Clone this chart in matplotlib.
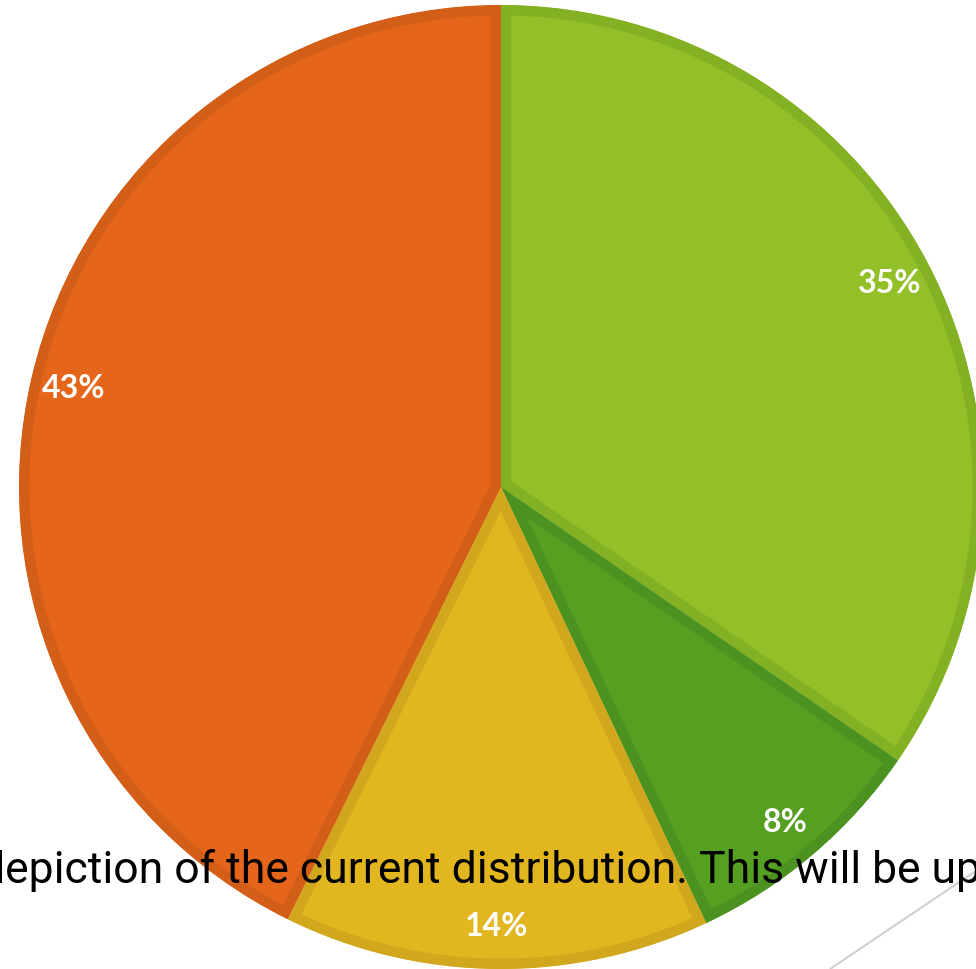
import matplotlib
matplotlib.use("Agg")
import matplotlib.pyplot as plt

# slice shares, clockwise from 12 o'clock
labels = ["Light green", "Dark green", "Yellow", "Orange"]
shares = [34.6, 8.4, 14.3, 42.7]
fills = ["#93C028", "#559F21", "#E2B61F", "#E5661A"]
edges = ["#84B024", "#4C9220", "#D1A71E", "#D35E17"]

caption = "depiction of the current distribution. This will be up"

W, H = 976, 970
fig = plt.figure(figsize=(W / 100, H / 100), dpi=100)
ax = fig.add_axes([0, 0, 1, 1])

wedges, texts, autotexts = ax.pie(
    shares, colors=fills, startangle=90, counterclock=False,
    center=(501, 482), radius=482, frame=True,
    autopct="%.0f%%", pctdistance=0.91,
    wedgeprops=dict(linewidth=15),
    textprops=dict(color="white", fontsize=23, fontweight="bold", family="Lato"),
)
ax.set_xlim(0, W)
ax.set_ylim(0, H)
ax.set_aspect("auto")
ax.axis("off")

# inner stroke: wide edge, clipped to the wedge's own outline
# (pie turns clipping off for its wedges, so switch it back on)
for w, ec in zip(wedges, edges):
    w.set_edgecolor(ec)
    w.set_clip_on(True)
    w.set_clip_path(w.get_path(), w.get_transform())

# thin gray diagonal line in the lower right corner
ax.plot([1010, 830], [121, 0], color="#D0D0D0", lw=1.5, solid_capstyle="butt")

# caption overlay: first letter cut at the left edge, "u" ending near x=953
renderer = fig.canvas.get_renderer()
fam = "Roboto"
probe_fs = 30
t = fig.text(0, 0, caption[:-1], fontsize=probe_fs, family=fam)
w_full = t.get_window_extent(renderer).width
t.set_text("d")
w_d = t.get_window_extent(renderer).width
t.remove()
fs = probe_fs * 948 / (w_full - w_d)
x0 = 5 - w_d * fs / probe_fs
ax.text(x0, H - 883, caption, fontsize=fs, family=fam, color="black",
        ha="left", va="baseline")

fig.savefig("out.png", dpi=100)
